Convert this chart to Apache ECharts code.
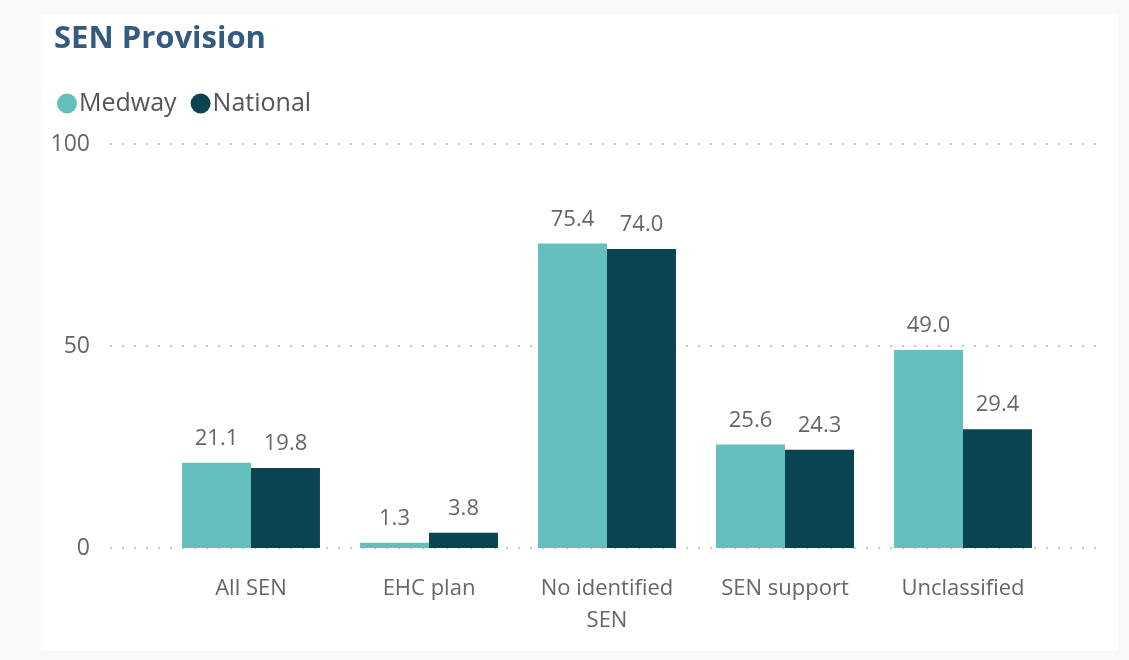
<!DOCTYPE html>
<html>
<head>
<meta charset="utf-8">
<script src="https://cdn.jsdelivr.net/npm/echarts@6/dist/echarts.min.js"></script>
<style>
html,body{margin:0;padding:0;background:#f9f9f9;}
#panel{position:absolute;left:41px;top:14px;width:1077px;height:637px;background:#fff;}
#chart{position:absolute;left:0;top:0;width:1129px;height:660px;}
</style>
</head>
<body>
<div id="panel"></div>
<div id="chart"></div>
<script>
const categories = ['All SEN', 'EHC plan', 'No identified\nSEN', 'SEN support', 'Unclassified'];
const medway = [21.1, 1.3, 75.4, 25.6, 49.0];
const national = [19.8, 3.8, 74.0, 24.3, 29.4];
const yTicks = [0, 50, 100];

const font = '"Open Sans", "Noto Sans", sans-serif';
const chart = echarts.init(document.getElementById('chart'), null, {renderer: 'canvas'});
const labelStyle = {
  show: true, position: 'top', distance: 13,
  formatter: p => p.value.toFixed(1),
  color: '#666', fontSize: 22, fontFamily: font
};
chart.setOption({
  backgroundColor: 'transparent',
  animation: false,
  title: {
    text: 'SEN Provision', left: 49, top: 19,
    textStyle: {color: '#335a80', fontSize: 31, fontWeight: 'bold', fontFamily: font}
  },
  legend: {
    left: 52, top: 86, icon: 'circle', itemWidth: 20, itemHeight: 20, itemGap: 14,
    textStyle: {color: '#555', fontSize: 25, fontFamily: font, padding: [0, 0, 0, -3]},
    data: ['Medway', 'National']
  },
  grid: [
    {left: 110, right: 32, top: 144, bottom: 112},
    {left: 162, right: 77, top: 144, bottom: 112}
  ],
  xAxis: [
    {gridIndex: 0, type: 'value', min: 0, max: 1, show: false},
    {gridIndex: 1, type: 'category', data: categories,
     axisLine: {show: false}, axisTick: {show: false},
     axisLabel: {color: '#666', fontSize: 22, fontFamily: font, margin: 25, lineHeight: 32}}
  ],
  yAxis: [
    {gridIndex: 0, type: 'value', min: 0, max: 100, interval: 50,
     axisLine: {show: false}, axisTick: {show: false},
     axisLabel: {color: '#666', fontSize: 23, fontFamily: font, margin: 20,
       formatter: v => yTicks.includes(v) ? String(v) : ''},
     splitLine: {lineStyle: {color: '#c8c8c8', width: 2, type: [2, 10]}}},
    {gridIndex: 1, type: 'value', min: 0, max: 100, show: false, splitLine: {show: false}}
  ],
  series: [
    {type: 'line', xAxisIndex: 0, yAxisIndex: 0, data: [], silent: true},
    {name: 'Medway', type: 'bar', xAxisIndex: 1, yAxisIndex: 1, data: medway,
     itemStyle: {color: '#66bfbf'}, barGap: '0%', barCategoryGap: '22.5%', label: labelStyle},
    {name: 'National', type: 'bar', xAxisIndex: 1, yAxisIndex: 1, data: national,
     itemStyle: {color: '#0a4450'}, barGap: '0%', barCategoryGap: '22.5%', label: labelStyle}
  ]
});
</script>
</body>
</html>
